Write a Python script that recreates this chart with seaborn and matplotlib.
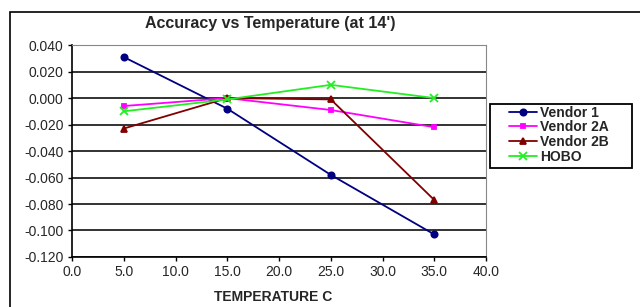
import pandas as pd
import numpy as np
import seaborn as sns
import matplotlib.pyplot as plt
from matplotlib.patches import Rectangle

temps = [5.0, 15.0, 25.0, 35.0]
vendor1 = [0.031, -0.008, -0.058, -0.103]
vendor2a = [-0.006, 0.000, -0.009, -0.022]
vendor2b = [-0.023, 0.000, -0.001, -0.077]
hobo = [-0.010, -0.001, 0.010, 0.000]
series_names = ["Vendor 1", "Vendor 2A", "Vendor 2B", "HOBO"]
x_ticks = [0, 5, 10, 15, 20, 25, 30, 35, 40]
y_ticks = [0.04, 0.02, 0.0, -0.02, -0.04, -0.06, -0.08, -0.10, -0.12]

palette = {"Vendor 1": "#000080", "Vendor 2A": "#ff00ff",
           "Vendor 2B": "#800000", "HOBO": "#22ee22"}
markers = {"Vendor 1": "o", "Vendor 2A": "s", "Vendor 2B": "^", "HOBO": "x"}
msizes = {"Vendor 1": 4.5, "Vendor 2A": 3, "Vendor 2B": 5, "HOBO": 5.5}

sns.set_style("white")
plt.rcParams["font.family"] = ["Liberation Sans", "DejaVu Sans"]

fig = plt.figure(figsize=(6.4, 3.07), dpi=100)
ax = fig.add_axes([0.1125, 0.163, 0.647, 0.69])

# outer chart frame
fig.patches.append(Rectangle((10 / 640, -0.01), 1.0, 1 - 12 / 307 + 0.01,
                             transform=fig.transFigure, fill=False,
                             edgecolor="black", linewidth=1.2, zorder=0))

for name, vals in zip(series_names, [vendor1, vendor2a, vendor2b, hobo]):
    d = pd.DataFrame({"temp": temps, "acc": vals})
    sns.lineplot(data=d, x="temp", y="acc", color=palette[name],
                 marker=markers[name], markersize=msizes[name],
                 markeredgecolor=palette[name], markeredgewidth=1.3,
                 linewidth=1.3, label=name, ax=ax)

ax.set_xlim(0, 40)
ax.set_ylim(-0.12, 0.04)
ax.set_xticks(x_ticks)
ax.set_xticklabels([f"{t:.1f}" for t in x_ticks], fontsize=10)
ax.set_yticks(y_ticks)
ax.set_yticklabels([f"{t:.3f}" for t in y_ticks], fontsize=10)
ax.yaxis.grid(True, color="#222222", linewidth=1.3)
ax.set_axisbelow(True)
ax.tick_params(axis="both", which="both", direction="out", length=3,
               width=1, color="black", left=True, bottom=True, pad=3)
for side in ["left", "bottom"]:
    ax.spines[side].set_color("black")
    ax.spines[side].set_linewidth(1.2)
for side in ["top", "right"]:
    ax.spines[side].set_color("#888888")
    ax.spines[side].set_linewidth(0.8)

ax.set_title("Accuracy vs Temperature (at 14')", fontsize=11.5,
             fontweight="bold", pad=12, x=0.478)
ax.set_xlabel("TEMPERATURE C", fontsize=10, fontweight="bold")
ax.xaxis.set_label_coords(0.485, -0.155)
ax.set_ylabel("")

# legend without its own frame, boxed by a separate rectangle
leg = ax.legend(loc="upper left", bbox_to_anchor=(1.0556, 0.715),
                borderaxespad=0, borderpad=0, fontsize=10, frameon=False,
                handlelength=2.0, handletextpad=0.2, labelspacing=0.05)
for t in leg.get_texts():
    t.set_fontweight("bold")
ax.add_patch(Rectangle((1.0097, 0.4198), 0.343, 0.302, transform=ax.transAxes,
                       fill=False, edgecolor="black", linewidth=1.3,
                       clip_on=False))

fig.savefig("out.png", dpi=100)
